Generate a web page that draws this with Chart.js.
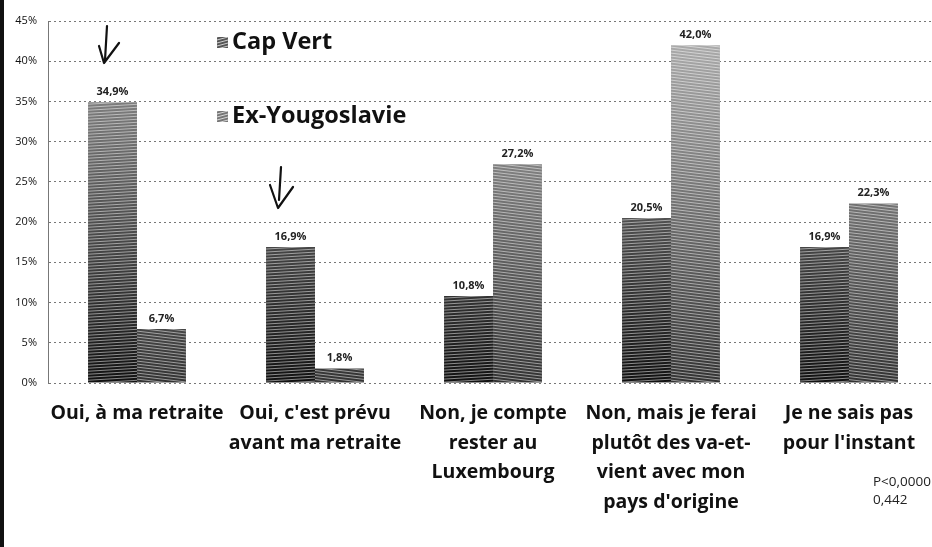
<!DOCTYPE html>
<html>
<head>
<meta charset="utf-8">
<script src="https://cdn.jsdelivr.net/npm/chart.js@4"></script>
<style>
  html, body { margin: 0; padding: 0; background: #fff; overflow: hidden; }
  #wrap { position: relative; width: 938px; height: 547px; }
  #edge { position: absolute; left: 0; top: 0; width: 4px; height: 547px; background: #111; }
</style>
</head>
<body>
<div id="wrap">
  <canvas id="graf"></canvas>
  <div id="edge"></div>
</div>
<script>
// categories (réponses)
var categorias = [
    'Oui, à ma retraite',
    ["Oui, c'est prévu", 'avant ma retraite'],
    ['Non, je compte', 'rester au', 'Luxembourg'],
    ['Non, mais je ferai', 'plutôt des va-et-', 'vient avec mon', "pays d'origine"],
    ['Je ne sais pas', "pour l'instant"]
];
// séries en %
var capVert = [34.9, 16.9, 10.8, 20.5, 16.9];
var exYougoslavie = [6.7, 1.8, 27.2, 42.0, 22.3];
var ticksY = [0, 5, 10, 15, 20, 25, 30, 35, 40, 45];
var notaP = ['P<0,0000', '0,442'];

var fuente = '"Open Sans", Lato, sans-serif';

function degradado(abajo, arriba) {
    return function (ctx) {
        var area = ctx.chart.chartArea;
        if (!area) { return abajo; }
        var g = ctx.chart.ctx.createLinearGradient(0, area.bottom, 0, area.top);
        g.addColorStop(0, abajo);
        g.addColorStop(1, arriba);
        return g;
    };
}

function porcentaje(v) {
    return v.toFixed(1).replace('.', ',') + '%';
}

// rayas finas sobre las barras (efecto trama del original)
var trama = {
    id: 'trama',
    afterDatasetsDraw: function (chart) {
        var c = chart.ctx;
        chart.data.datasets.forEach(function (ds, i) {
            var pend = i === 0 ? -0.06 : 0.12;
            chart.getDatasetMeta(i).data.forEach(function (bar) {
                var x0 = bar.x - bar.width / 2, x1 = bar.x + bar.width / 2;
                c.save();
                c.beginPath();
                c.rect(x0, bar.y, bar.width, bar.base - bar.y);
                c.clip();
                c.strokeStyle = 'rgba(255,255,255,0.5)';
                c.lineWidth = 1;
                for (var y = bar.y - 10; y < bar.base + 10; y += 3) {
                    c.beginPath();
                    c.moveTo(x0, y);
                    c.lineTo(x1, y + pend * bar.width);
                    c.stroke();
                }
                c.restore();
            });
        });
    }
};

// etiquetas de valor, leyenda, flechas y nota
var extras = {
    id: 'extras',
    afterDraw: function (chart) {
        var c = chart.ctx;
        c.save();
        c.fillStyle = '#222';
        c.font = 'bold 11px ' + fuente;
        c.textAlign = 'center';
        c.textBaseline = 'bottom';
        chart.data.datasets.forEach(function (ds, i) {
            chart.getDatasetMeta(i).data.forEach(function (bar, j) {
                c.fillText(porcentaje(ds.data[j]), bar.x, bar.y - 5);
            });
        });

        // leyenda
        var posL = [[217, 42], [217, 116]];
        chart.data.datasets.forEach(function (ds, i) {
            var p = posL[i];
            c.fillStyle = i === 0 ? '#555' : '#777';
            c.fillRect(p[0], p[1] - 5, 11, 11);
            c.strokeStyle = 'rgba(255,255,255,0.7)';
            c.lineWidth = 1;
            for (var k = 0; k < 14; k += 3) {
                c.beginPath();
                c.moveTo(p[0], p[1] - 5 + k);
                c.lineTo(p[0] + 11, p[1] - 5 + k - 3);
                c.stroke();
            }
            c.fillStyle = '#111';
            c.font = 'bold 23.5px ' + fuente;
            c.textAlign = 'left';
            c.textBaseline = 'middle';
            c.fillText(ds.label, p[0] + 15, p[1]);
        });

        // flechas a mano
        c.strokeStyle = '#111';
        c.lineWidth = 2.2;
        c.lineCap = 'round';
        c.lineJoin = 'round';
        c.beginPath();
        c.moveTo(107, 26); c.lineTo(105, 60);
        c.moveTo(99, 46); c.lineTo(104, 63); c.lineTo(119, 43);
        c.stroke();
        c.beginPath();
        c.moveTo(281, 167); c.lineTo(279, 200);
        c.moveTo(270, 185); c.lineTo(278, 208); c.lineTo(293, 187);
        c.stroke();

        // nota estadística
        c.fillStyle = '#222';
        c.font = '13.5px ' + fuente;
        c.textAlign = 'left';
        c.textBaseline = 'middle';
        c.fillText(notaP[0], 873, 482);
        c.fillText(notaP[1], 873, 500);
        c.restore();
    }
};

new Chart(document.getElementById('graf'), {
    type: 'bar',
    data: {
        labels: categorias,
        datasets: [{
            label: 'Cap Vert',
            data: capVert,
            backgroundColor: degradado('#111111', '#9c9c9c'),
            borderWidth: 0
        }, {
            label: 'Ex-Yougoslavie',
            data: exYougoslavie,
            backgroundColor: degradado('#333333', '#b2b2b2'),
            borderWidth: 0
        }]
    },
    options: {
        responsive: true,
        maintainAspectRatio: false,
        animation: false,
        layout: { padding: { top: 21, left: 0, right: 0, bottom: 0 } },
        categoryPercentage: 0.55,
        barPercentage: 1.0,
        plugins: {
            legend: { display: false },
            tooltip: { enabled: false }
        },
        scales: {
            x: {
                grid: { display: false },
                border: { display: false },
                ticks: {
                    color: '#111',
                    padding: 8,
                    maxRotation: 0,
                    autoSkip: false,
                    font: { family: fuente, size: 19.5, weight: 'bold', lineHeight: 1.51 }
                },
                afterFit: function (scale) { scale.height = 164; }
            },
            y: {
                min: 0,
                max: 45,
                afterBuildTicks: function (scale) {
                    scale.ticks = ticksY.map(function (v) { return { value: v }; });
                },
                grid: { color: '#777', lineWidth: 1, drawTicks: false },
                border: { display: true, color: '#777', dash: [2, 3] },
                ticks: {
                    color: '#111',
                    padding: 11,
                    font: { family: fuente, size: 11 },
                    callback: function (v) { return v + '%'; }
                },
                afterFit: function (scale) { scale.width = 48; }
            }
        }
    },
    plugins: [trama, extras]
});
</script>
</body>
</html>
